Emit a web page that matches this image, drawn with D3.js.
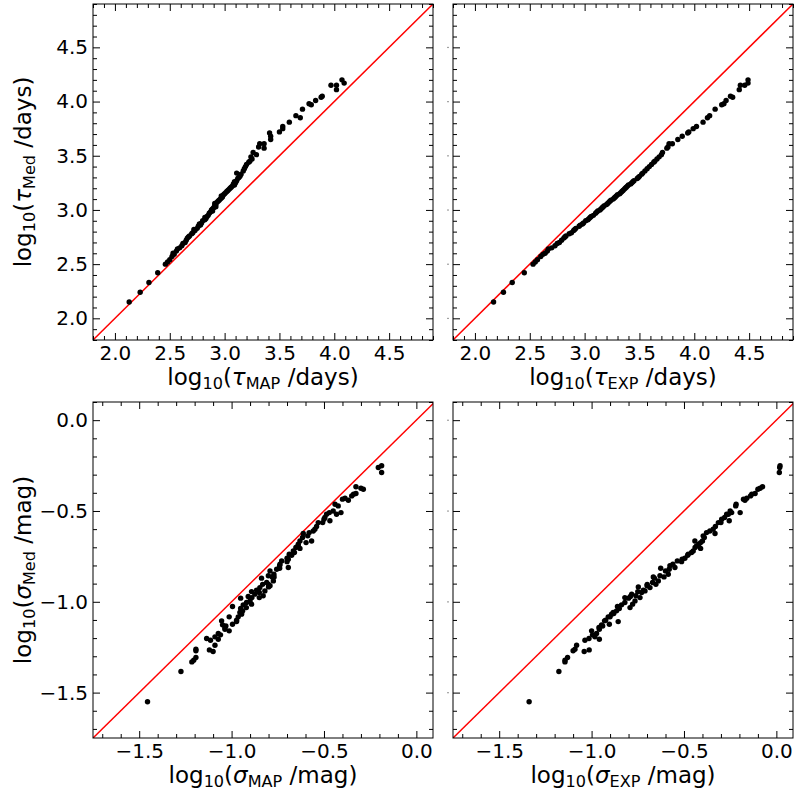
<!DOCTYPE html>
<html>
<head>
<meta charset="utf-8">
<script src="https://cdn.jsdelivr.net/npm/d3@7"></script>
<style>
body { margin: 0; background: #fff; }
text { font-family: "DejaVu Sans", sans-serif; }
</style>
</head>
<body>
<svg id="fig" width="794" height="792"></svg>
<script>

// timescale (log10 days): median vs MAP and vs EXP, same objects in the same order
var tauMed = [2.15,2.24,2.33,2.42,2.50,2.52,2.54,2.57,2.59,2.62,2.64,2.65,2.67,2.69,2.72,2.74,2.76,2.78,2.79,2.81,
              2.83,2.85,2.86,2.88,2.90,2.91,2.92,2.94,2.95,2.97,2.98,3.00,3.01,3.02,3.04,3.05,3.07,3.08,3.10,3.11,
              3.12,3.14,3.15,3.16,3.18,3.19,3.21,3.22,3.24,3.25,3.27,3.29,3.31,3.33,3.34,3.36,3.38,3.40,3.42,3.44,
              3.45,3.47,3.49,3.51,3.53,3.57,3.58,3.61,3.61,3.65,3.68,3.71,3.72,3.75,3.77,3.81,3.85,3.87,3.93,3.97,
              3.98,4.01,4.05,4.04,4.11,4.15,4.15,4.17,4.20,2.87,2.93,2.99,3.03,3.06,3.09,3.13,3.17,3.20,3.23,2.70,
              2.75,2.60,2.82,3.26,3.30];
var tauMap = [2.13,2.23,2.31,2.39,2.46,2.48,2.50,2.52,2.54,2.56,2.57,2.59,2.61,2.62,2.65,2.66,2.68,2.70,2.71,2.73,
              2.75,2.76,2.78,2.79,2.80,2.82,2.83,2.84,2.85,2.86,2.87,2.88,2.89,2.90,2.91,2.92,2.93,2.94,2.96,2.97,
              2.98,2.99,3.00,3.01,3.03,3.04,3.06,3.07,3.08,3.10,3.11,3.12,3.14,3.15,3.11,3.17,3.18,3.19,3.20,3.22,
              3.23,3.25,3.24,3.29,3.26,3.36,3.31,3.36,3.32,3.42,3.42,3.41,3.50,3.53,3.53,3.59,3.69,3.65,3.71,3.79,
              3.77,3.83,3.89,3.88,4.02,3.97,4.02,4.09,4.07,2.77,2.82,2.89,2.92,2.91,2.95,2.97,3.02,3.05,3.09,2.64,
              2.67,2.53,2.72,3.09,3.13];
var tauExp = [2.17,2.26,2.34,2.45,2.53,2.55,2.57,2.60,2.62,2.66,2.67,2.70,2.73,2.75,2.79,2.81,2.83,2.86,2.88,2.90,
              2.92,2.95,2.96,2.99,3.01,3.03,3.04,3.06,3.08,3.10,3.11,3.14,3.15,3.16,3.18,3.20,3.22,3.23,3.26,3.27,
              3.28,3.30,3.32,3.33,3.35,3.36,3.38,3.39,3.42,3.43,3.45,3.48,3.50,3.52,3.53,3.55,3.57,3.59,3.61,3.63,
              3.64,3.66,3.68,3.70,3.71,3.75,3.76,3.77,3.80,3.85,3.89,3.94,3.95,3.99,4.02,4.08,4.12,4.14,4.19,4.25,
              4.27,4.29,4.33,4.35,4.41,4.42,4.46,4.49,4.49,2.98,3.05,3.12,3.17,3.21,3.24,3.29,3.34,3.37,3.40,2.77,
              2.82,2.64,2.91,3.44,3.49];

// amplitude (log10 mag): median vs MAP and vs EXP
var sigMed = [-1.550,-1.384,-1.331,-1.307,-1.322,-1.270,-1.261,-1.239,-1.212,-1.202,-1.274,-1.265,-1.206,-1.193,-1.175,-1.182,
              -1.160,-1.151,-1.142,-1.133,-1.127,-1.124,-1.105,-1.109,-1.102,-1.083,-1.083,-1.068,-1.065,-1.059,-1.050,-1.037,
              -1.032,-1.026,-1.017,-1.013,-1.004,-0.995,-0.980,-0.977,-0.977,-0.971,-0.967,-0.958,-0.949,-0.944,-0.940,-0.936,
              -0.922,-0.918,-0.912,-0.904,-0.904,-0.894,-0.885,-0.870,-0.863,-0.863,-0.857,-0.848,-0.830,-0.821,-0.815,-0.811,
              -0.802,-0.793,-0.779,-0.775,-0.766,-0.760,-0.744,-0.738,-0.729,-0.720,-0.706,-0.701,-0.693,-0.683,-0.674,-0.665,
              -0.665,-0.646,-0.637,-0.624,-0.619,-0.610,-0.600,-0.585,-0.564,-0.564,-0.554,-0.545,-0.536,-0.518,-0.518,-0.509,
              -0.509,-0.500,-0.472,-0.463,-0.441,-0.435,-0.430,-0.417,-0.408,-0.404,-0.380,-0.375,-0.367,-0.288,-0.261,-0.251];
var sigMap = [-1.455,-1.274,-1.215,-1.193,-1.205,-1.193,-1.193,-1.090,-1.114,-1.135,-1.100,-1.120,-1.072,-1.090,-1.072,-1.060,
              -1.013,-1.036,-1.036,-1.031,-1.049,-0.995,-1.054,-0.973,-0.973,-1.013,-0.964,-0.946,-0.946,-0.955,-0.940,-0.951,
              -0.920,-0.995,-0.937,-0.892,-0.919,-0.900,-0.951,-0.850,-0.890,-0.910,-0.829,-0.874,-0.850,-0.892,-0.820,-0.865,
              -0.847,-0.800,-0.792,-0.832,-0.800,-0.810,-0.774,-0.838,-0.780,-0.770,-0.801,-0.771,-0.792,-0.756,-0.740,-0.693,
              -0.740,-0.738,-0.700,-0.729,-0.693,-0.700,-0.675,-0.688,-0.660,-0.666,-0.630,-0.652,-0.640,-0.639,-0.597,-0.567,
              -0.630,-0.616,-0.588,-0.612,-0.580,-0.558,-0.549,-0.540,-0.531,-0.507,-0.468,-0.500,-0.495,-0.486,-0.432,-0.471,
              -0.408,-0.450,-0.423,-0.440,-0.368,-0.400,-0.386,-0.350,-0.340,-0.327,-0.287,-0.300,-0.327,-0.188,-0.206,-0.188];
var sigExp = [-1.338,-1.177,-1.144,-1.130,-1.144,-1.100,-1.090,-1.081,-1.036,-1.014,-1.040,-1.013,-0.958,-0.982,-0.973,-0.995,
              -1.000,-0.958,-0.960,-0.940,-0.946,-0.904,-0.930,-0.856,-0.924,-0.900,-0.910,-0.892,-0.880,-0.883,-0.865,-0.850,
              -0.792,-0.860,-0.838,-0.778,-0.820,-0.765,-0.800,-0.738,-0.820,-0.790,-0.760,-0.783,-0.729,-0.750,-0.711,-0.720,
              -0.684,-0.747,-0.700,-0.652,-0.699,-0.670,-0.639,-0.660,-0.666,-0.608,-0.630,-0.585,-0.600,-0.580,-0.626,-0.549,
              -0.576,-0.560,-0.513,-0.536,-0.510,-0.495,-0.480,-0.477,-0.459,-0.450,-0.410,-0.440,-0.432,-0.420,-0.410,-0.441,
              -0.400,-0.390,-0.396,-0.332,-0.378,-0.360,-0.342,-0.330,-0.314,-0.300,-0.255,-0.296,-0.280,-0.269,-0.260,-0.242,
              -0.196,-0.250,-0.220,-0.218,-0.170,-0.178,-0.160,-0.140,-0.133,-0.115,-0.100,-0.088,-0.075,0.016,0.018,0.020];

var tauTicks = [2.0, 2.5, 3.0, 3.5, 4.0, 4.5],
    sigTicks = [-1.5, -1.0, -0.5, 0.0];

var svg = d3.select('#fig'),
    fmt = d3.format('.1f'),
    tickFont = 20,
    labelFont = 23,
    W = 340, H = 336;

svg.append('rect').attr('width', 794).attr('height', 792).attr('fill', '#fff');

var panels = [
  {id: 'a', left: 93,  top: 4,   xs: tauMap, ys: tauMed, xDom: [1.8, 4.9],   yDom: [1.8, 4.9],  ticks: tauTicks, sym: 'τ', xSub: 'MAP', unit: '/days', yLabel: true},
  {id: 'b', left: 453, top: 4,   xs: tauExp, ys: tauMed, xDom: [1.8, 4.9],   yDom: [1.8, 4.9],  ticks: tauTicks, sym: 'τ', xSub: 'EXP', unit: '/days', yLabel: false},
  {id: 'c', left: 93,  top: 402, xs: sigMap, ys: sigMed, xDom: [-1.75, 0.09], yDom: [-1.75, 0.1], ticks: sigTicks, sym: 'σ', xSub: 'MAP', unit: '/mag', yLabel: true},
  {id: 'd', left: 453, top: 402, xs: sigExp, ys: sigMed, xDom: [-1.75, 0.09], yDom: [-1.75, 0.1], ticks: sigTicks, sym: 'σ', xSub: 'EXP', unit: '/mag', yLabel: false}
];

panels.forEach(drawPanel);

//minor ticks every 0.1 that are not majors
function minorTicks(dom) {
  return d3.range(Math.ceil(dom[0] * 10), Math.floor(dom[1] * 10) + 1)
           .filter(function(k) { return k % 5 !== 0; })
           .map(function(k) { return k / 10; });
}

function addTicks(g, axisFn, scale, tr, major, minor, labels, pad) {
  g.append('g').attr('transform', tr)
   .call(axisFn(scale).tickValues(minor).tickSize(-4).tickFormat(''));
  var a = g.append('g').attr('transform', tr)
   .call(axisFn(scale).tickValues(major).tickSize(-7).tickPadding(pad)
         .tickFormat(labels ? fmt : function() { return ''; }));
  g.selectAll('.domain').remove();
  g.selectAll('.tick line').attr('stroke', '#000').attr('stroke-width', 1);
  a.attr('font-family', 'DejaVu Sans').attr('font-size', tickFont);
  a.selectAll('text').attr('fill', '#000');
}

//log10(sym_sub unit) label with subscripts
function axisLabel(sel, sym, sub, unit) {
  var s = labelFont * 0.7, drop = 3.5;
  sel.attr('font-size', labelFont).attr('fill', '#000');
  sel.append('tspan').text('log');
  sel.append('tspan').attr('font-size', s).attr('dy', drop).text('10');
  sel.append('tspan').attr('dy', -drop).text('(');
  sel.append('tspan').attr('font-style', 'italic').text(sym);
  sel.append('tspan').attr('font-size', s).attr('dy', drop).text(sub);
  sel.append('tspan').attr('dy', -drop).text('\u00a0' + unit + ')');
}

function drawPanel(p) {

  var g = svg.append('g').attr('transform', 'translate(' + p.left + ',' + p.top + ')'),
      x = d3.scaleLinear().domain(p.xDom).range([0, W]),
      y = d3.scaleLinear().domain(p.yDom).range([H, 0]),
      lo = Math.min(p.xDom[0], p.yDom[0]),
      hi = Math.max(p.xDom[1], p.yDom[1]);

  g.append('clipPath').attr('id', 'clip' + p.id)
   .append('rect').attr('width', W).attr('height', H);

  //one-to-one line
  g.append('line')
   .attr('clip-path', 'url(#clip' + p.id + ')')
   .attr('x1', x(lo)).attr('y1', y(lo))
   .attr('x2', x(hi)).attr('y2', y(hi))
   .attr('stroke', '#ff0000').attr('stroke-width', 1.5);

  g.append('g').selectAll('circle')
   .data(p.xs.map(function(v, i) { return [v, p.ys[i]]; }))
   .join('circle')
   .attr('cx', function(d) { return x(d[0]); })
   .attr('cy', function(d) { return y(d[1]); })
   .attr('r', 2.7)
   .attr('fill', '#000');

  var xMinor = minorTicks(p.xDom), yMinor = minorTicks(p.yDom);

  addTicks(g, d3.axisBottom, x, 'translate(0,' + H + ')', p.ticks, xMinor, true, 6);
  addTicks(g, d3.axisTop, x, 'translate(0,0)', p.ticks, xMinor, false, 0);
  addTicks(g, d3.axisLeft, y, 'translate(0,0)', p.ticks, yMinor, p.yLabel, 5);
  addTicks(g, d3.axisRight, y, 'translate(' + W + ',0)', p.ticks, yMinor, false, 0);

  //shared y: only a speck is left where the labels were
  if (!p.yLabel) {
    g.append('g').selectAll('rect').data(p.ticks).join('rect')
     .attr('x', -5.5).attr('y', function(d) { return y(d) - 0.5; })
     .attr('width', 1).attr('height', 1.2).attr('fill', '#444');
  }

  g.append('rect').attr('width', W).attr('height', H)
   .attr('fill', 'none').attr('stroke', '#000').attr('stroke-width', 1);

  g.append('text').attr('x', W / 2).attr('y', H + 45).attr('text-anchor', 'middle')
   .call(axisLabel, p.sym, p.xSub, p.unit);

  if (p.yLabel) {
    g.append('text').attr('text-anchor', 'middle')
     .attr('transform', 'translate(-62,' + (H / 2) + ') rotate(-90)')
     .call(axisLabel, p.sym, 'Med', p.unit);
  }
}

</script>
</body>
</html>
